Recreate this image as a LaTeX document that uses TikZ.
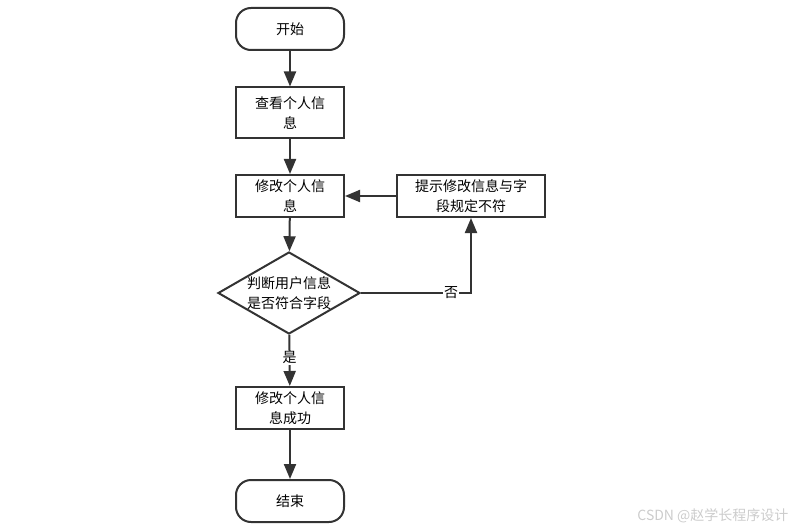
\documentclass[tikz,border=0pt]{standalone}
\usepackage{fontspec}
\setmainfont{Noto Sans CJK SC}
\usetikzlibrary{arrows.meta,shapes.geometric}

\tikzset{
  flowline/.style={draw=black!80,line width=2pt},
  flowarrow/.style={flowline,-{Triangle[length=15pt,width=12pt]}},
  procbox/.style={draw=black!80,line width=2pt,minimum width=108pt,minimum height=42pt,
    align=center,font=\fontsize{14pt}{20pt}\selectfont,inner sep=0pt},
  termbox/.style={procbox,rounded corners=15pt},
  decbox/.style={draw=black!80,line width=2pt,diamond,aspect=1.73,minimum width=142pt,
    minimum height=82pt,align=center,font=\fontsize{14pt}{20pt}\selectfont,inner sep=0pt},
  lbl/.style={font=\fontsize{14pt}{16pt}\selectfont,fill=white,inner sep=1pt}
}

\begin{document}
\begin{tikzpicture}[x=1pt,y=-1pt]
  \useasboundingbox (0,0) rectangle (806,532);
  % nodes
  \node[termbox] (start) at (290,29) {开始};
  \node[procbox,minimum height=51pt] (view) at (290,113) {查看个人信\\息};
  \node[procbox] (edit) at (290,196) {修改个人信\\息};
  \node[procbox,minimum width=148pt] (hint) at (471,196) {提示修改信息与字\\段规定不符};
  \node[decbox] (check) at (289,293) {判断用户信息\\是否符合字段};
  \node[procbox] (ok) at (290,408) {修改个人信\\息成功};
  \node[termbox] (stop) at (290,501) {结束};

  % connectors
  \draw[flowarrow] (start) -- (view);
  \draw[flowarrow] (view) -- (edit);
  \draw[flowarrow] (edit) -- (check);
  \draw[flowarrow] (check) -- node[lbl,pos=0.45] {是} (ok);
  \draw[flowarrow] (ok) -- (stop);
  \draw[flowarrow] (check.east) -- (hint.south |- check.east)
    node[lbl,pos=0.82] {否} -- (hint.south);
  \draw[flowarrow] (hint) -- (edit);

  \node[text=black!20,font=\fontsize{14pt}{16pt}\selectfont,anchor=east] (mark) at (792,516)
    {CSDN @赵学长程序设计};
\end{tikzpicture}
\end{document}
